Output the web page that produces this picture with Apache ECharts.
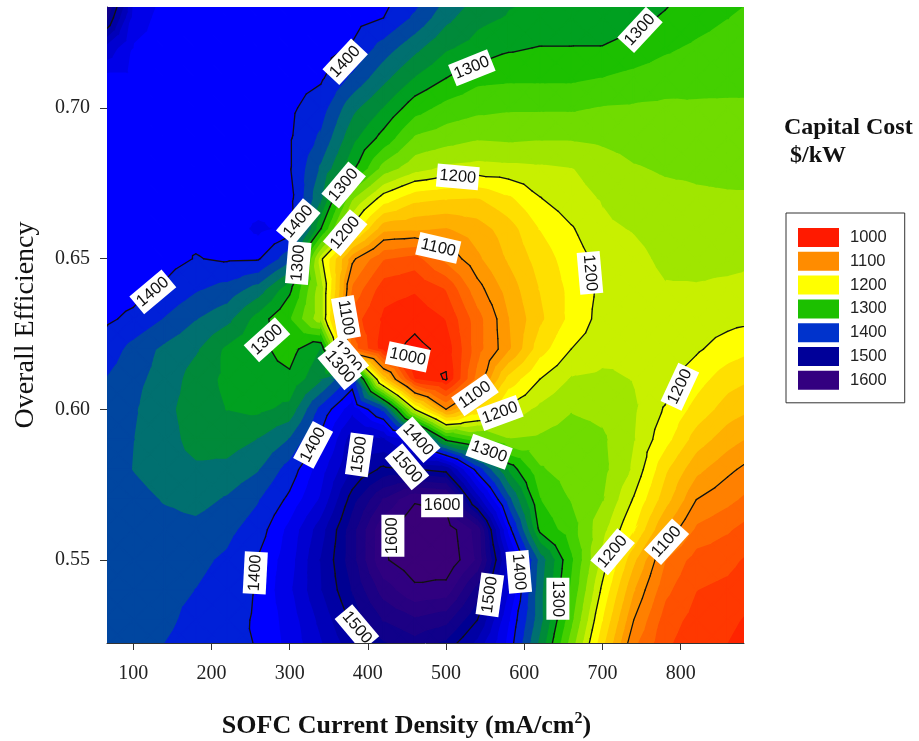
<!DOCTYPE html>
<html><head><meta charset="utf-8">
<style>html,body{margin:0;padding:0;background:#fff}#c{width:919px;height:741px}</style>
<script src="https://cdn.jsdelivr.net/npm/echarts@6/dist/echarts.min.js"></script>
</head><body><div id="c"></div>
<script>
const xTicks=[100,200,300,400,500,600,700,800];
const yTicks=[0.55,0.60,0.65,0.70];
const gridX=[60,100,140,180,220,260,300,340,380,420,460,500,540,580,620,660,700,740,780,820,860,900];
const gridY=[0.74,0.73,0.72,0.71,0.70,0.69,0.68,0.67,0.66,0.65,0.64,0.63,0.62,0.61,0.60,0.59,0.58,0.57,0.56,0.55,0.54,0.53,0.52];
const costMatrix=[
[1600,1440,1415,1412,1412,1412,1412,1412,1412,1410,1395,1365,1340,1325,1320,1318,1316,1312,1306,1298,1290,1282],
[1540,1430,1412,1410,1410,1410,1410,1410,1408,1400,1375,1345,1325,1318,1316,1315,1312,1305,1298,1288,1280,1272],
[1460,1418,1412,1410,1410,1410,1410,1408,1398,1370,1345,1322,1312,1303,1299,1299,1299,1293,1283,1276,1270,1266],
[1415,1415,1410,1408,1408,1408,1408,1403,1375,1345,1318,1300,1285,1283,1283,1283,1279,1273,1268,1266,1265,1265],
[1410,1410,1408,1406,1406,1406,1404,1388,1345,1318,1288,1272,1265,1262,1262,1262,1258,1257,1256,1257,1257,1257],
[1410,1408,1406,1405,1405,1404,1402,1375,1325,1292,1256,1248,1241,1243,1241,1241,1244,1248,1250,1251,1251,1251],
[1408,1406,1405,1405,1405,1404,1402,1355,1305,1250,1226,1215,1212,1214,1216,1219,1228,1238,1242,1243,1244,1245],
[1408,1405,1404,1404,1406,1408,1408,1340,1240,1190,1165,1160,1158,1175,1199,1213,1221,1230,1234,1237,1238,1238],
[1406,1404,1403,1405,1408,1424,1412,1300,1195,1125,1122,1118,1130,1150,1180,1198,1216,1221,1228,1231,1233,1235],
[1414,1412,1408,1399,1403,1402,1365,1205,1105,1060,1050,1085,1115,1142,1168,1190,1207,1214,1224,1226,1226,1222],
[1412,1408,1397,1382,1372,1350,1305,1225,1075,1028,1022,1040,1092,1128,1160,1185,1205,1210,1218,1218,1215,1213],
[1405,1395,1378,1360,1345,1310,1280,1225,1050,1015,1006,1020,1070,1118,1155,1185,1208,1210,1212,1212,1207,1203],
[1395,1372,1355,1342,1315,1305,1292,1320,1070,1008,994,1006,1070,1115,1170,1200,1212,1215,1210,1203,1190,1180],
[1381,1365,1352,1330,1315,1308,1304,1335,1385,1150,1018,998,1085,1165,1200,1221,1224,1219,1212,1188,1168,1158],
[1376,1362,1345,1330,1319,1315,1325,1385,1430,1370,1200,1100,1160,1205,1224,1238,1234,1222,1198,1172,1150,1138],
[1374,1360,1348,1332,1330,1340,1360,1405,1470,1460,1420,1295,1265,1240,1243,1250,1243,1220,1187,1150,1128,1112],
[1374,1359,1348,1343,1345,1358,1388,1430,1480,1505,1502,1492,1390,1315,1262,1250,1245,1216,1163,1125,1105,1088],
[1376,1368,1358,1352,1362,1378,1405,1442,1510,1560,1597,1590,1470,1365,1280,1258,1240,1198,1148,1100,1085,1068],
[1378,1372,1368,1366,1374,1390,1425,1470,1530,1596,1620,1615,1570,1410,1295,1268,1225,1180,1118,1075,1062,1045],
[1376,1372,1372,1375,1383,1402,1430,1480,1530,1597,1615,1620,1575,1450,1350,1282,1212,1143,1080,1050,1045,1032],
[1375,1372,1375,1380,1388,1402,1435,1478,1520,1568,1595,1590,1530,1438,1345,1275,1195,1120,1065,1040,1035,1024],
[1373,1373,1376,1385,1392,1403,1428,1465,1505,1540,1555,1545,1500,1420,1345,1263,1178,1100,1050,1032,1025,1012],
[1371,1372,1381,1388,1395,1401,1425,1455,1488,1510,1525,1505,1465,1410,1330,1245,1160,1080,1042,1025,1018,1005]
];
const bandFloors=[0,1000,1020,1040,1060,1080,1100,1120,1140,1160,1180,1200,1220,1240,1260,1280,1300,1320,1340,1360,1380,1400,1420,1440,1460,1480,1500,1520,1540,1560,1580,1600];
const bandColors=['#ff1200','#ff2400','#ff3800','#ff5000','#ff6800','#ff8000','#ff9800','#ffb000','#ffc800','#ffe000','#ffff00','#c8f000','#a0e600','#70dc00','#44d000','#1cc000','#00a020','#008a3a','#007070','#0046a0','#0020d8','#0000ff','#0000e8','#0000d0','#0000b8','#0000a4','#000092','#10008a','#1c0084','#280080','#300080','#3a0078'];
const contourLevels=[1000,1100,1200,1300,1400,1500,1600];
const legendNames=['1000','1100','1200','1300','1400','1500','1600'];
const legendColors=['#ff1a00','#ff8c00','#ffff00','#1cc000','#0033cc','#000099','#330080'];
const labelX=[371,533,748,515,311,369,371,311,125,271,372,373,364,451,537,569,490,684,464,555,330,389,450,495,432,256,386,556,593,643,713,782,799];
const labelY=[.7154,.7134,.726,.6772,.6623,.6745,.6586,.6486,.639,.6231,.6304,.6174,.6141,.6174,.6048,.5988,.6536,.6453,.5899,.5859,.5882,.5849,.5809,.568,.558,.5457,.5275,.5384,.546,.5371,.5527,.556,.6075];
const labelText=[1400,1300,1300,1200,1400,1300,1200,1300,1400,1300,1100,1200,1300,1000,1100,1200,1100,1200,1400,1300,1400,1500,1500,1600,1600,1400,1500,1500,1400,1300,1200,1100,1200];
const labelAngle=[47,22,47,-5,50,50,50,85,40,42,-80,-50,-50,-12,35,20,-13,-85,-48,-20,62,82,-50,0,90,87,-50,82,-85,-90,50,48,65];

const cells=[];
for(let r=0;r<gridY.length-1;r++)for(let c=0;c<gridX.length-1;c++)cells.push([r,c]);

function corners(r,c,api){
  const p=[[r,c],[r,c+1],[r+1,c+1],[r+1,c]];
  return p.map(([a,b])=>{const q=api.coord([gridX[b],gridY[a]]);return [q[0],q[1],costMatrix[a][b]];});
}
function clip(poly,t,keepAbove){
  const out=[];
  for(let i=0;i<poly.length;i++){
    const A=poly[i],B=poly[(i+1)%poly.length];
    const ia=keepAbove?A[2]>=t:A[2]<=t, ib=keepAbove?B[2]>=t:B[2]<=t;
    if(ia)out.push(A);
    if(ia!==ib){const f=(t-A[2])/(B[2]-A[2]);out.push([A[0]+f*(B[0]-A[0]),A[1]+f*(B[1]-A[1]),t]);}
  }
  return out;
}
function tris(q){
  const m=[0,1,2].map(k=>(q[0][k]+q[1][k]+q[2][k]+q[3][k])/4);
  return [[q[0],q[1],m],[q[1],q[2],m],[q[2],q[3],m],[q[3],q[0],m]];
}
function renderBand(params,api){
  const b=params.dataIndex, children=[];
  cells.forEach(([r,c])=>{
    tris(corners(r,c,api)).forEach(tri=>{
      let poly=clip(tri,bandFloors[b],true);
      if(b<bandFloors.length-1&&poly.length)poly=clip(poly,bandFloors[b+1],false);
      if(poly.length>2)children.push({type:'polygon',shape:{points:poly.map(p=>[p[0],p[1]])},
        style:{fill:bandColors[b],stroke:bandColors[b],lineWidth:1.6}});
    });
  });
  return {type:'group',children};
}
function renderLines(params,api){
  const [r,c]=cells[params.dataIndex], children=[];
  tris(corners(r,c,api)).forEach(tri=>{
    contourLevels.forEach(t=>{
      const pts=[];
      for(let i=0;i<3;i++){
        const A=tri[i],B=tri[(i+1)%3];
        if((A[2]<t)!==(B[2]<t)){const f=(t-A[2])/(B[2]-A[2]);pts.push([A[0]+f*(B[0]-A[0]),A[1]+f*(B[1]-A[1])]);}
      }
      if(pts.length===2)children.push({type:'polyline',shape:{points:pts},style:{fill:null,stroke:'#111',lineWidth:1.3,lineCap:'round'}});
    });
  });
  return {type:'group',children};
}
function renderLabel(params,api){
  const i=params.dataIndex, p=api.coord([labelX[i],labelY[i]]), a=labelAngle[i]*Math.PI/180;
  return {type:'group',x:p[0],y:p[1],rotation:a,children:[
    {type:'rect',shape:{x:-21,y:-11.5,width:42,height:23},style:{fill:'#fff'}},
    {type:'text',style:{x:0,y:0,text:String(labelText[i]),align:'center',verticalAlign:'middle',fill:'#111',font:'16.5px "Liberation Sans"'}}
  ]};
}
const serif='"Liberation Serif"';
const option={
  animation:false,
  title:[
    {text:'Capital Cost',left:784,top:116,textStyle:{fontFamily:serif,fontWeight:'bold',fontSize:24,color:'#111'},padding:0},
    {text:'$/kW',left:790,top:144,textStyle:{fontFamily:serif,fontWeight:'bold',fontSize:24,color:'#111'},padding:0}
  ],
  legend:{orient:'vertical',left:786,top:213,padding:[15,18,13,12],itemWidth:41,itemHeight:19,itemGap:4.8,icon:'rect',selectedMode:false,
    borderColor:'#333',borderWidth:1,data:legendNames,
    textStyle:{fontFamily:'"Liberation Sans"',fontSize:16.5,color:'#222',padding:[0,0,0,6]}},
  grid:{left:107,top:7,width:637,height:636,outerBoundsMode:'none'},
  xAxis:{type:'value',min:66.4,max:881,
    axisLine:{show:true,lineStyle:{color:'#333',width:1}},
    axisTick:{show:true,customValues:xTicks,length:7,lineStyle:{color:'#333'}},
    axisLabel:{customValues:xTicks,fontFamily:serif,fontSize:20,color:'#222',margin:21},
    splitLine:{show:false},
    name:'{b|SOFC Current Density (mA/cm}{s|2}{b|)}',nameLocation:'middle',nameGap:68,
    nameTextStyle:{padding:[0,38,0,0],rich:{
      b:{fontFamily:serif,fontWeight:'bold',fontSize:26,color:'#111',lineHeight:30},
      s:{fontFamily:serif,fontWeight:'bold',fontSize:16,color:'#111',verticalAlign:'top',lineHeight:18}}}},
  yAxis:{type:'value',min:0.5224,max:0.7336,
    axisLine:{show:true,lineStyle:{color:'#333',width:1}},
    axisTick:{show:true,customValues:yTicks,length:7,lineStyle:{color:'#333'}},
    axisLabel:{customValues:yTicks,formatter:v=>v.toFixed(2),fontFamily:serif,fontSize:20,color:'#222',margin:17},
    splitLine:{show:false},
    name:'Overall Efficiency',nameLocation:'middle',nameGap:67,nameRotate:90,
    nameTextStyle:{fontFamily:serif,fontSize:28,color:'#111'}},
  series:[
    {type:'custom',silent:true,clip:true,z:2,renderItem:renderBand,data:bandFloors},
    {type:'custom',silent:true,clip:true,z:3,renderItem:renderLines,data:cells},
    {type:'custom',silent:true,clip:true,z:4,renderItem:renderLabel,data:labelX.map((x,i)=>[x,labelY[i],labelText[i]])},
    ...legendNames.map((n,i)=>({type:'scatter',name:n,data:[],itemStyle:{color:legendColors[i],opacity:1}}))
  ]
};
echarts.init(document.getElementById('c'),null,{renderer:'canvas'}).setOption(option);
</script></body></html>
